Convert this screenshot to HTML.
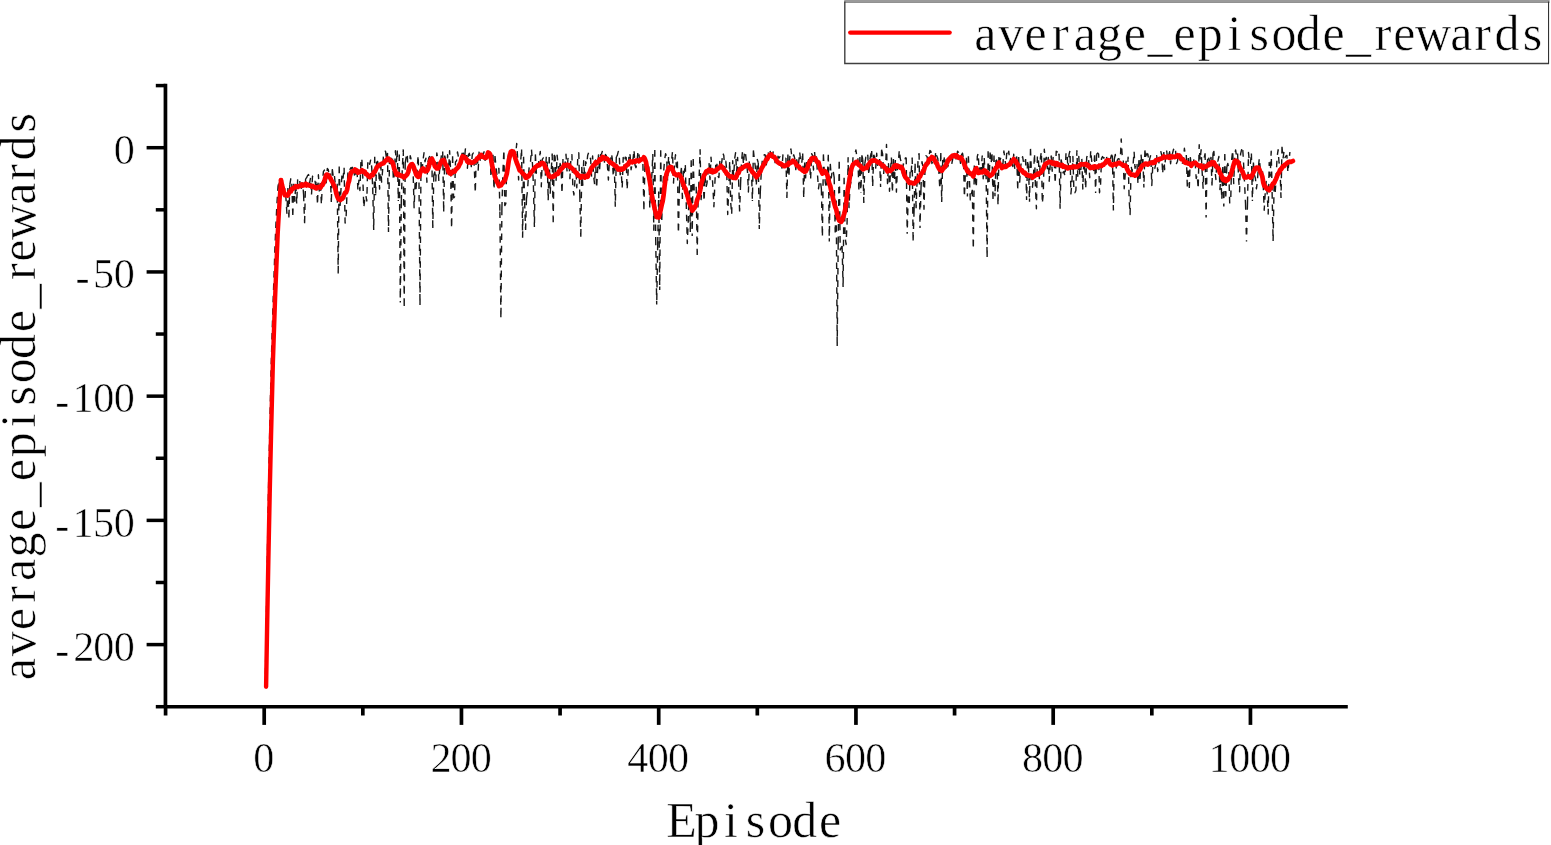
<!DOCTYPE html>
<html lang="en"><head><meta charset="utf-8"><title>average_episode_rewards</title>
<style>
html,body{margin:0;padding:0;background:#fff;}
body{width:1551px;height:845px;overflow:hidden;font-family:"Liberation Serif","Noto Serif CJK SC",serif;}
svg text{font-family:"Liberation Serif","Noto Serif CJK SC",serif;}
</style></head><body>
<svg width="1551" height="845" viewBox="0 0 1551 845" style="display:block" font-family="'Liberation Serif','Noto Serif CJK SC',serif" fill="#000">
<rect width="1551" height="845" fill="#fff"/>
<path d="M265.2,686.7 L266.2,625.7 L267.2,565.7 L268.1,510.0 L269.1,459.2 L270.1,412.7 L271.1,368.4 L272.1,334.0 L273.1,301.5 L274.1,273.4 L275.0,245.9 L276.0,222.6 L277.0,202.6 L278.0,186.5 L279.0,180.6 L280.0,203.3 L281.0,183.9 L282.0,181.9 L282.9,178.9 L283.9,195.2 L284.9,188.7 L285.9,197.4 L286.9,213.3 L287.9,187.9 M287.9,187.9 L288.9,217.4 M289.8,184.9 L288.9,217.4 M289.8,184.9 L290.8,178.6 L291.8,183.7 M291.8,183.7 L292.8,215.5 M293.8,183.7 L292.8,215.5 M293.8,183.7 L294.8,201.3 L295.8,183.1 L296.7,203.8 L297.7,178.6 L298.7,181.0 L299.7,180.0 L300.7,191.0 L301.7,187.0 L302.7,183.0 L303.6,194.7 M303.6,194.7 L304.6,223.2 M305.6,178.7 L304.6,223.2 M305.6,178.7 L306.6,177.8 L307.6,175.5 L308.6,174.6 L309.6,183.1 L310.6,177.5 L311.5,194.9 L312.5,176.3 L313.5,175.7 L314.5,177.5 L315.5,184.4 L316.5,179.7 L317.5,205.0 L318.4,174.7 L319.4,193.4 L320.4,180.7 L321.4,204.8 L322.4,182.6 L323.4,171.7 L324.4,170.1 L325.3,186.1 L326.3,182.1 L327.3,168.5 L328.3,169.7 L329.3,177.1 L330.3,173.5 M330.3,173.5 L331.3,201.9 M332.3,169.2 L331.3,201.9 M332.3,169.2 L333.2,176.2 L334.2,173.5 L335.2,183.2 L336.2,181.7 L337.2,183.7 M337.2,183.7 L338.2,273.5 M339.2,166.6 L338.2,273.5 M339.2,166.6 L340.1,205.4 L341.1,187.3 L342.1,173.3 L343.1,178.0 L344.1,167.4 L345.1,223.0 L346.1,217.8 L347.0,192.9 L348.0,171.2 L349.0,172.5 L350.0,169.4 L351.0,167.7 L352.0,169.1 L353.0,165.1 L353.9,171.5 L354.9,178.0 L355.9,172.3 L356.9,166.4 L357.9,190.2 L358.9,180.2 L359.9,190.5 L360.9,162.1 L361.8,158.0 L362.8,177.6 L363.8,207.7 L364.8,198.6 L365.8,195.0 L366.8,201.0 L367.8,162.2 L368.7,159.7 L369.7,164.4 L370.7,159.6 L371.7,167.2 L372.7,187.6 M372.7,187.6 L373.7,230.0 M374.7,156.7 L373.7,230.0 M374.7,156.7 L375.6,195.3 M376.6,162.0 L375.6,195.3 M376.6,162.0 L377.6,161.4 L378.6,166.4 L379.6,189.1 L380.6,160.0 L381.6,182.1 L382.5,171.8 L383.5,154.6 L384.5,151.1 L385.5,151.2 L386.5,158.6 L387.5,152.9 M387.5,152.9 L388.5,232.0 M389.5,157.5 L388.5,232.0 M389.5,157.5 L390.4,167.1 L391.4,155.6 L392.4,156.2 L393.4,180.4 L394.4,174.4 L395.4,150.8 L396.4,161.8 L397.3,150.5 M397.3,150.5 L398.3,200.9 M399.3,154.5 L398.3,200.9 M399.3,154.5 L400.3,302.5 M401.3,201.7 L400.3,302.5 M401.3,201.7 L402.3,167.9 L403.3,149.4 M403.3,149.4 L404.2,307.4 M405.2,163.1 L404.2,307.4 M405.2,163.1 L406.2,156.7 L407.2,153.4 L408.2,175.5 L409.2,175.4 L410.2,155.8 L411.1,159.0 L412.1,159.0 L413.1,172.0 L414.1,207.7 L415.1,182.8 L416.1,188.5 L417.1,171.3 L418.1,155.1 L419.0,182.5 M419.0,182.5 L420.0,305.4 M421.0,162.0 L420.0,305.4 M421.0,162.0 L422.0,172.5 L423.0,160.4 L424.0,152.8 L425.0,161.7 L425.9,158.3 L426.9,182.2 L427.9,162.2 L428.9,157.6 L429.9,156.1 L430.9,153.4 L431.9,158.2 M431.9,158.2 L432.8,228.0 M433.8,175.1 L432.8,228.0 M433.8,175.1 L434.8,172.0 L435.8,181.1 L436.8,152.9 L437.8,159.3 L438.8,180.4 L439.8,167.7 L440.7,161.0 L441.7,153.0 L442.7,151.6 M442.7,151.6 L443.7,211.6 M444.7,155.6 L443.7,211.6 M444.7,155.6 L445.7,159.8 L446.7,175.5 L447.6,154.7 L448.6,170.8 L449.6,150.8 L450.6,170.0 M450.6,170.0 L451.6,230.0 M452.6,156.3 L451.6,230.0 M452.6,156.3 L453.6,197.9 L454.5,197.1 L455.5,161.7 L456.5,161.0 L457.5,151.9 L458.5,157.6 L459.5,157.5 L460.5,157.5 L461.4,159.7 L462.4,149.8 L463.4,153.4 L464.4,159.9 L465.4,148.9 L466.4,151.1 L467.4,168.3 L468.4,154.8 L469.3,153.3 L470.3,157.5 L471.3,166.6 L472.3,154.5 L473.3,153.1 L474.3,167.8 L475.3,193.0 L476.2,156.0 L477.2,155.1 L478.2,170.1 L479.2,149.9 L480.2,160.2 L481.2,157.8 L482.2,153.4 L483.1,154.8 L484.1,151.8 L485.1,160.3 L486.1,151.4 L487.1,151.7 L488.1,151.6 L489.1,156.8 L490.0,153.2 L491.0,177.4 L492.0,154.8 L493.0,154.7 M493.0,154.7 L494.0,190.9 M495.0,156.0 L494.0,190.9 M495.0,156.0 L496.0,167.0 L497.0,175.0 L497.9,171.0 L498.9,168.3 L499.9,211.4 M499.9,211.4 L500.9,320.0 M501.9,208.6 L500.9,320.0 M501.9,208.6 L502.9,172.4 L503.9,149.7 L504.8,205.6 L505.8,203.6 L506.8,165.2 L507.8,158.8 L508.8,152.2 L509.8,149.9 L510.8,155.1 L511.7,153.9 L512.7,155.1 L513.7,149.2 L514.7,153.9 L515.7,154.9 L516.7,143.5 L517.7,158.9 L518.6,179.9 L519.6,163.1 L520.6,161.5 L521.6,149.5 M521.6,149.5 L522.6,237.7 M523.6,156.8 L522.6,237.7 M523.6,156.8 L524.6,202.0 M524.6,202.0 L525.6,230.0 M526.5,198.6 L525.6,230.0 M526.5,198.6 L527.5,191.1 L528.5,174.6 L529.5,163.6 L530.5,161.6 L531.5,149.5 L532.5,164.5 L533.4,185.3 M533.4,185.3 L534.4,227.0 M535.4,154.4 L534.4,227.0 M535.4,154.4 L536.4,173.3 L537.4,171.3 L538.4,163.4 L539.4,158.1 L540.3,151.4 L541.3,186.7 L542.3,159.3 L543.3,157.9 L544.3,173.1 L545.3,175.8 L546.3,156.3 L547.3,164.2 M547.3,164.2 L548.2,200.3 M549.2,157.0 L548.2,200.3 M549.2,157.0 L550.2,194.0 L551.2,171.4 L552.2,153.6 M552.2,153.6 L553.2,222.2 M554.2,154.9 L553.2,222.2 M554.2,154.9 L555.1,156.8 L556.1,180.3 L557.1,155.1 L558.1,164.7 L559.1,172.9 L560.1,163.5 L561.1,168.4 L562.0,193.6 L563.0,158.1 L564.0,159.2 L565.0,165.2 L566.0,154.2 L567.0,170.9 L568.0,158.4 L568.9,160.9 L569.9,178.6 L570.9,158.8 L571.9,154.6 L572.9,188.7 L573.9,195.0 L574.9,181.4 L575.9,167.4 L576.8,187.8 L577.8,156.1 L578.8,152.8 L579.8,195.5 M579.8,195.5 L580.8,236.7 M581.8,166.9 L580.8,236.7 M581.8,166.9 L582.8,185.2 L583.7,160.6 L584.7,179.0 L585.7,161.7 L586.7,164.4 L587.7,155.2 L588.7,152.5 L589.7,156.9 L590.6,158.9 L591.6,176.9 L592.6,155.9 L593.6,175.9 L594.6,184.2 L595.6,160.0 L596.6,188.3 L597.5,171.7 L598.5,154.9 L599.5,171.5 L600.5,154.8 L601.5,154.0 L602.5,150.7 L603.5,154.6 L604.5,162.8 L605.4,154.5 L606.4,155.9 L607.4,165.4 L608.4,180.0 L609.4,159.6 L610.4,162.0 L611.4,153.5 L612.3,158.8 L613.3,176.7 L614.3,164.1 M614.3,164.1 L615.3,206.8 M616.3,156.9 L615.3,206.8 M616.3,156.9 L617.3,155.3 L618.3,151.4 L619.2,154.5 L620.2,174.8 L621.2,171.8 L622.2,188.1 L623.2,157.4 L624.2,168.1 L625.2,157.1 L626.2,157.6 L627.1,189.8 L628.1,172.0 L629.1,152.7 L630.1,155.2 L631.1,169.7 L632.1,163.5 L633.1,158.7 L634.0,149.8 L635.0,165.0 L636.0,167.7 L637.0,162.2 L638.0,150.9 L639.0,154.7 L640.0,164.4 L640.9,160.6 L641.9,157.9 L642.9,164.1 M642.9,164.1 L643.9,209.7 M644.9,165.4 L643.9,209.7 M644.9,165.4 L645.9,158.0 L646.9,160.2 L647.8,178.8 L648.8,166.9 L649.8,208.3 L650.8,185.0 L651.8,176.5 L652.8,153.9 M652.8,153.9 L653.8,230.8 M654.8,150.1 L653.8,230.8 M654.8,150.1 L655.7,238.7 M655.7,238.7 L656.7,304.4 M657.7,243.7 L656.7,304.4 M657.7,243.7 L658.7,191.6 M658.7,191.6 L659.7,290.0 M660.7,150.2 L659.7,290.0 M660.7,150.2 L661.7,222.3 L662.6,194.5 L663.6,172.4 L664.6,159.8 L665.6,153.7 L666.6,156.6 L667.6,181.1 L668.6,156.2 L669.5,165.9 L670.5,163.0 L671.5,161.1 L672.5,151.6 L673.5,183.1 L674.5,163.3 L675.5,154.8 L676.4,166.9 L677.4,161.6 M677.4,161.6 L678.4,235.8 M679.4,186.7 L678.4,235.8 M679.4,186.7 L680.4,175.9 L681.4,167.9 M681.4,167.9 L682.4,199.0 M683.4,170.8 L682.4,199.0 M683.4,170.8 L684.3,172.7 L685.3,163.8 L686.3,205.2 L687.3,243.5 L688.3,220.5 L689.3,177.9 M689.3,177.9 L690.3,232.0 M691.2,160.3 L690.3,232.0 M691.2,160.3 L692.2,235.9 M693.2,159.1 L692.2,235.9 M693.2,159.1 L694.2,191.3 L695.2,188.4 L696.2,186.8 M696.2,186.8 L697.2,255.1 M698.1,200.8 L697.2,255.1 M698.1,200.8 L699.1,178.0 L700.1,149.7 L701.1,199.6 L702.1,183.9 L703.1,178.2 L704.1,201.5 L705.0,175.0 L706.0,187.7 L707.0,183.1 L708.0,172.5 L709.0,162.7 L710.0,179.5 L711.0,157.1 L712.0,171.7 L712.9,187.2 L713.9,206.8 L714.9,182.7 L715.9,161.5 L716.9,163.5 L717.9,176.2 L718.9,177.5 L719.8,161.4 L720.8,166.4 L721.8,161.8 L722.8,153.0 L723.8,155.4 L724.8,169.8 L725.8,161.3 L726.7,169.4 L727.7,214.5 L728.7,190.3 L729.7,161.0 L730.7,202.6 L731.7,214.5 L732.7,160.7 L733.7,176.5 L734.6,159.2 L735.6,152.7 L736.6,172.0 L737.6,157.4 L738.6,180.1 M738.6,180.1 L739.6,211.6 M740.6,183.5 L739.6,211.6 M740.6,183.5 L741.5,161.6 L742.5,151.4 L743.5,164.5 L744.5,151.1 L745.5,153.6 L746.5,162.0 L747.5,172.0 L748.4,192.0 L749.4,159.7 L750.4,170.0 L751.4,167.4 M751.4,167.4 L752.4,201.0 M753.4,150.4 L752.4,201.0 M753.4,150.4 L754.4,159.6 L755.3,166.4 L756.3,186.0 L757.3,159.5 L758.3,162.9 M758.3,162.9 L759.3,229.0 M760.3,192.1 L759.3,229.0 M760.3,192.1 L761.3,171.4 L762.3,160.2 L763.2,159.9 L764.2,154.8 L765.2,155.0 L766.2,165.4 L767.2,158.8 L768.2,153.0 L769.2,157.9 L770.1,150.8 L771.1,157.4 L772.1,160.4 L773.1,151.9 L774.1,153.9 L775.1,162.6 L776.1,162.0 L777.0,163.6 L778.0,156.3 L779.0,158.1 L780.0,156.7 L781.0,164.1 L782.0,168.0 L783.0,153.9 L783.9,156.9 L784.9,158.3 L785.9,158.0 M785.9,158.0 L786.9,198.0 M787.9,154.6 L786.9,198.0 M787.9,154.6 L788.9,177.1 L789.9,155.7 L790.9,148.9 L791.8,156.6 L792.8,158.0 L793.8,154.8 L794.8,158.7 L795.8,169.6 L796.8,159.8 L797.8,167.1 L798.7,162.3 L799.7,152.0 L800.7,161.7 L801.7,163.7 L802.7,153.4 M802.7,153.4 L803.7,197.0 M804.7,162.5 L803.7,197.0 M804.7,162.5 L805.6,177.9 L806.6,160.8 L807.6,170.5 L808.6,159.7 L809.6,161.7 L810.6,179.6 L811.6,153.6 L812.5,155.4 L813.5,170.0 L814.5,150.8 L815.5,163.8 L816.5,157.0 L817.5,174.7 L818.5,188.8 L819.5,181.2 L820.4,180.6 L821.4,189.0 M821.4,189.0 L822.4,237.7 M823.4,154.4 L822.4,237.7 M823.4,154.4 L824.4,173.9 L825.4,183.1 L826.4,188.4 L827.3,178.1 L828.3,154.8 M828.3,154.8 L829.3,241.6 M830.3,163.9 L829.3,241.6 M830.3,163.9 L831.3,177.8 L832.3,169.6 L833.3,171.7 L834.2,177.6 M834.2,177.6 L835.2,232.5 M836.2,200.4 L835.2,232.5 M836.2,200.4 L837.2,346.0 M838.2,243.1 L837.2,346.0 M838.2,243.1 L839.2,159.0 L840.2,250.0 L841.2,247.4 L842.1,246.1 M842.1,246.1 L843.1,287.0 M844.1,177.7 L843.1,287.0 M844.1,177.7 L845.1,237.2 L846.1,244.5 L847.1,221.7 L848.1,157.6 L849.0,207.6 L850.0,187.3 L851.0,181.6 L852.0,180.0 L853.0,157.1 L854.0,154.7 L855.0,153.7 L855.9,149.9 L856.9,157.1 L857.9,158.2 M857.9,158.2 L858.9,190.4 M859.9,156.9 L858.9,190.4 M859.9,156.9 L860.9,193.0 M861.9,155.3 L860.9,193.0 M861.9,155.3 L862.8,159.7 M862.8,159.7 L863.8,203.0 M864.8,163.7 L863.8,203.0 M864.8,163.7 L865.8,157.3 L866.8,159.6 L867.8,155.2 L868.8,175.3 L869.8,159.6 L870.7,155.1 L871.7,150.9 M871.7,150.9 L872.7,185.9 M873.7,154.7 L872.7,185.9 M873.7,154.7 L874.7,157.1 L875.7,168.1 L876.7,153.3 L877.6,165.3 L878.6,157.9 L879.6,158.9 M879.6,158.9 L880.6,187.0 M881.6,149.7 L880.6,187.0 M881.6,149.7 L882.6,153.9 L883.6,174.2 L884.5,164.1 L885.5,169.4 L886.5,144.5 L887.5,183.6 L888.5,163.6 L889.5,191.2 L890.5,170.5 L891.4,157.5 M891.4,157.5 L892.4,193.0 M893.4,159.1 L892.4,193.0 M893.4,159.1 L894.4,181.4 L895.4,159.3 L896.4,192.1 L897.4,169.2 L898.4,161.3 L899.3,150.1 L900.3,158.6 L901.3,162.6 L902.3,174.4 L903.3,163.9 L904.3,164.8 L905.3,158.2 L906.2,157.6 M906.2,157.6 L907.2,233.8 M908.2,196.2 L907.2,233.8 M908.2,196.2 L909.2,205.8 L910.2,169.2 L911.2,172.3 L912.2,157.5 M912.2,157.5 L913.1,240.6 M914.1,210.1 L913.1,240.6 M914.1,210.1 L915.1,163.8 M915.1,163.8 L916.1,208.3 M917.1,180.1 L916.1,208.3 M917.1,180.1 L918.1,159.3 L919.1,153.2 M919.1,153.2 L920.0,228.0 M921.0,188.6 L920.0,228.0 M921.0,188.6 L922.0,161.6 L923.0,167.7 M923.0,167.7 L924.0,209.7 M925.0,168.5 L924.0,209.7 M925.0,168.5 L926.0,155.8 L927.0,156.5 L927.9,160.6 L928.9,157.3 L929.9,150.5 L930.9,151.3 L931.9,163.5 L932.9,160.2 L933.9,159.7 L934.8,161.1 L935.8,151.3 L936.8,156.0 L937.8,158.6 L938.8,170.3 L939.8,189.0 L940.8,153.0 M940.8,153.0 L941.7,202.0 M942.7,159.9 L941.7,202.0 M942.7,159.9 L943.7,161.8 L944.7,155.5 L945.7,170.2 L946.7,165.6 L947.7,166.7 L948.7,164.2 L949.6,156.4 L950.6,159.8 L951.6,164.8 L952.6,159.5 L953.6,152.6 L954.6,155.2 L955.6,156.1 L956.5,160.6 L957.5,151.3 L958.5,152.5 L959.5,155.2 L960.5,163.3 L961.5,154.9 L962.5,153.2 L963.4,157.7 L964.4,197.0 L965.4,172.8 L966.4,157.7 M966.4,157.7 L967.4,196.4 M968.4,156.2 L967.4,196.4 M968.4,156.2 L969.4,178.5 L970.3,199.9 L971.3,194.4 L972.3,189.8 M972.3,189.8 L973.3,250.3 M974.3,165.6 L973.3,250.3 M974.3,165.6 L975.3,178.8 L976.3,187.8 L977.3,156.4 L978.2,153.3 L979.2,172.3 L980.2,164.3 L981.2,170.3 L982.2,156.0 L983.2,178.7 L984.2,157.5 L985.1,175.6 L986.1,172.6 M986.1,172.6 L987.1,259.0 M988.1,151.2 L987.1,259.0 M988.1,151.2 L989.1,182.1 M990.1,152.5 L989.1,182.1 M990.1,152.5 L991.1,163.5 L992.0,154.2 M992.0,154.2 L993.0,198.9 M994.0,155.5 L993.0,198.9 M994.0,155.5 L995.0,196.3 M996.0,159.9 L995.0,196.3 M996.0,159.9 L997.0,160.4 M997.0,160.4 L998.0,204.8 M998.9,157.1 L998.0,204.8 M998.9,157.1 L999.9,160.6 L1000.9,157.5 L1001.9,160.1 L1002.9,164.2 L1003.9,151.0 L1004.9,158.6 L1005.9,166.3 L1006.8,151.3 L1007.8,154.6 L1008.8,151.2 L1009.8,162.7 L1010.8,157.4 L1011.8,157.6 L1012.8,166.5 L1013.7,154.3 L1014.7,168.3 L1015.7,159.2 L1016.7,156.4 M1016.7,156.4 L1017.7,188.7 M1018.7,157.0 L1017.7,188.7 M1018.7,157.0 L1019.7,182.1 L1020.6,166.8 L1021.6,160.7 L1022.6,156.6 L1023.6,162.8 L1024.6,164.8 L1025.6,159.0 M1025.6,159.0 L1026.6,200.0 M1027.5,162.0 L1026.6,200.0 M1027.5,162.0 L1028.5,165.9 M1028.5,165.9 L1029.5,201.8 M1030.5,148.9 L1029.5,201.8 M1030.5,148.9 L1031.5,175.3 L1032.5,187.3 L1033.5,175.3 L1034.5,153.3 L1035.4,185.6 L1036.4,208.7 L1037.4,155.6 L1038.4,159.3 L1039.4,178.6 L1040.4,157.9 L1041.4,151.6 L1042.3,203.5 L1043.3,193.9 L1044.3,149.2 L1045.3,160.0 L1046.3,157.3 L1047.3,168.8 L1048.3,157.4 L1049.2,181.2 L1050.2,165.0 L1051.2,156.0 L1052.2,171.2 L1053.2,156.4 L1054.2,161.3 L1055.2,183.6 L1056.2,151.3 L1057.1,151.7 L1058.1,156.8 L1059.1,153.8 M1059.1,153.8 L1060.1,208.7 M1061.1,159.4 L1060.1,208.7 M1061.1,159.4 L1062.1,164.7 L1063.1,172.9 L1064.0,171.5 L1065.0,176.6 L1066.0,153.0 L1067.0,152.5 L1068.0,169.5 L1069.0,154.7 L1070.0,150.6 L1070.9,193.9 L1071.9,183.0 L1072.9,156.5 L1073.9,190.6 L1074.9,192.7 L1075.9,190.5 L1076.9,150.7 L1077.8,176.3 L1078.8,156.5 L1079.8,175.1 L1080.8,170.8 L1081.8,158.3 L1082.8,189.0 L1083.8,161.6 L1084.8,169.4 L1085.7,189.0 L1086.7,157.2 L1087.7,155.3 L1088.7,160.9 L1089.7,177.6 L1090.7,150.4 L1091.7,161.0 L1092.6,168.2 L1093.6,170.4 L1094.6,155.3 M1094.6,155.3 L1095.6,193.0 M1096.6,154.3 L1095.6,193.0 M1096.6,154.3 L1097.6,153.1 L1098.6,154.1 L1099.5,192.7 L1100.5,186.2 L1101.5,158.6 L1102.5,156.6 L1103.5,158.0 L1104.5,157.7 L1105.5,154.5 L1106.4,155.4 L1107.4,161.6 L1108.4,161.3 L1109.4,157.2 L1110.4,159.1 L1111.4,155.1 L1112.4,155.4 M1112.4,155.4 L1113.4,210.6 M1114.3,159.1 L1113.4,210.6 M1114.3,159.1 L1115.3,154.4 L1116.3,168.7 L1117.3,160.1 L1118.3,158.6 L1119.3,159.1 L1120.3,159.6 L1121.2,139.0 L1122.2,155.8 L1123.2,156.7 L1124.2,188.7 L1125.2,174.8 L1126.2,160.2 L1127.2,176.0 L1128.1,157.2 L1129.1,198.1 L1130.1,214.5 L1131.1,165.9 L1132.1,171.3 L1133.1,164.5 L1134.1,151.4 L1135.0,168.3 L1136.0,162.2 L1137.0,164.2 L1138.0,184.1 L1139.0,157.4 L1140.0,181.7 L1141.0,154.2 L1142.0,165.9 L1142.9,159.1 M1142.9,159.1 L1143.9,187.6 M1144.9,150.4 L1143.9,187.6 M1144.9,150.4 L1145.9,159.1 L1146.9,153.5 L1147.9,154.1 L1148.9,162.4 L1149.8,158.4 L1150.8,154.9 L1151.8,185.5 L1152.8,164.9 L1153.8,167.0 L1154.8,168.4 L1155.8,163.9 L1156.7,155.7 L1157.7,171.5 L1158.7,163.7 L1159.7,158.2 L1160.7,151.1 L1161.7,155.2 L1162.7,174.0 L1163.7,149.7 L1164.6,169.6 L1165.6,156.5 L1166.6,150.3 L1167.6,158.9 L1168.6,155.7 L1169.6,151.8 L1170.6,163.8 L1171.5,155.1 L1172.5,153.5 L1173.5,149.3 L1174.5,152.3 L1175.5,149.8 L1176.5,163.6 L1177.5,161.2 L1178.4,153.8 L1179.4,153.1 L1180.4,162.9 L1181.4,164.6 L1182.4,163.1 L1183.4,159.8 L1184.4,148.3 L1185.3,155.0 L1186.3,154.9 M1186.3,154.9 L1187.3,186.5 M1188.3,158.0 L1187.3,186.5 M1188.3,158.0 L1189.3,188.0 M1190.3,157.2 L1189.3,188.0 M1190.3,157.2 L1191.3,165.6 L1192.3,167.5 L1193.2,163.1 L1194.2,157.7 L1195.2,162.4 L1196.2,178.5 L1197.2,175.0 L1198.2,189.0 L1199.2,144.8 L1200.1,160.1 L1201.1,149.8 L1202.1,171.3 L1203.1,188.3 L1204.1,158.2 L1205.1,153.3 M1205.1,153.3 L1206.1,217.5 M1207.0,165.3 L1206.1,217.5 M1207.0,165.3 L1208.0,155.3 L1209.0,159.0 L1210.0,164.4 L1211.0,156.9 M1211.0,156.9 L1212.0,185.5 M1213.0,153.3 L1212.0,185.5 M1213.0,153.3 L1213.9,151.4 L1214.9,169.4 L1215.9,179.5 L1216.9,160.6 L1217.9,161.0 L1218.9,156.5 L1219.9,189.5 L1220.9,177.0 L1221.8,199.6 L1222.8,166.9 M1222.8,166.9 L1223.8,206.5 M1224.8,153.9 L1223.8,206.5 M1224.8,153.9 L1225.8,196.6 M1226.8,167.0 L1225.8,196.6 M1226.8,167.0 L1227.8,163.4 L1228.7,167.8 L1229.7,202.9 L1230.7,202.0 L1231.7,159.0 L1232.7,150.4 L1233.7,183.6 L1234.7,155.9 L1235.6,149.9 L1236.6,156.7 L1237.6,153.5 L1238.6,178.9 L1239.6,191.7 L1240.6,153.8 L1241.6,149.7 L1242.6,146.8 L1243.5,161.8 L1244.5,182.1 L1245.5,203.1 M1245.5,203.1 L1246.5,241.6 M1247.5,203.1 L1246.5,241.6 M1247.5,203.1 L1248.5,152.5 L1249.5,163.5 L1250.4,163.3 L1251.4,153.5 M1251.4,153.5 L1252.4,201.0 M1253.4,162.5 L1252.4,201.0 M1253.4,162.5 L1254.4,174.9 L1255.4,178.2 L1256.4,188.8 L1257.3,182.3 L1258.3,168.1 L1259.3,158.3 L1260.3,169.2 L1261.3,168.5 L1262.3,167.6 L1263.3,186.9 L1264.2,210.3 L1265.2,193.1 L1266.2,181.5 L1267.2,193.9 L1268.2,214.0 L1269.2,162.5 L1270.2,176.1 L1271.2,151.2 L1272.1,192.1 M1272.1,192.1 L1273.1,241.6 M1274.1,184.8 L1273.1,241.6 M1274.1,184.8 L1275.1,194.6 L1276.1,177.2 L1277.1,157.1 L1278.1,149.8 L1279.0,162.2 L1280.0,167.5 M1280.0,167.5 L1281.0,198.0 M1282.0,146.8 L1281.0,198.0 M1282.0,146.8 L1283.0,158.8 L1284.0,151.7 L1285.0,157.6 L1285.9,156.1 L1286.9,155.4 L1287.9,172.5 L1288.9,162.0 L1289.9,152.0" fill="none" stroke="#181818" stroke-width="1.4" stroke-dasharray="6.6 5.8" stroke-linejoin="round"/>
<path d="M281.0,180.1 L282.0,185.2 L283.0,189.0 L284.0,192.8 L284.9,195.2 L285.9,195.1 L286.9,194.8 L287.9,195.5 L288.9,193.0 L289.9,191.4 L290.9,191.4 L291.8,189.0 L292.8,188.7 L293.8,187.6 L294.8,187.5 L295.8,186.2 L296.8,186.8 L297.8,187.0 L298.8,186.0 L299.7,186.2 L300.7,185.8 L301.7,184.4 L302.7,185.6 L303.7,185.2 L304.7,184.5 L305.7,183.8 L306.6,185.5 L307.6,184.6 L308.6,185.2 L309.6,185.7 L310.6,185.7 L311.6,186.5 L312.6,185.9 L313.5,187.1 L314.5,186.8 L315.5,188.2 L316.5,188.4 L317.5,187.0 L318.5,187.0 L319.5,186.9 L320.4,187.7 L321.4,185.7 L322.4,185.0 L323.4,183.2 L324.4,181.0 L325.4,177.3 L326.4,174.6 L327.4,174.6 L328.3,175.3 L329.3,177.0 L330.3,178.1 L331.3,180.2 L332.3,181.8 L333.3,183.9 L334.3,186.0 L335.2,188.2 L336.2,193.0 L337.2,196.3 L338.2,198.7 L339.2,199.5 L340.2,200.1 L341.2,198.6 L342.1,198.9 L343.1,197.1 L344.1,194.9 L345.1,192.7 L346.1,192.4 L347.1,189.7 L348.1,183.8 L349.1,180.7 L350.0,175.9 L351.0,172.7 L352.0,171.6 L353.0,171.3 L354.0,171.0 L355.0,169.5 L356.0,171.2 L356.9,170.8 L357.9,172.7 L358.9,171.8 L359.9,172.1 L360.9,171.4 L361.9,170.3 L362.9,171.7 L363.8,171.2 L364.8,171.8 L365.8,174.1 L366.8,174.1 L367.8,175.5 L368.8,176.6 L369.8,177.2 L370.7,175.9 L371.7,174.8 L372.7,175.1 L373.7,172.3 L374.7,171.9 L375.7,170.0 L376.7,167.4 L377.7,166.4 L378.6,165.6 L379.6,165.1 L380.6,164.4 L381.6,163.8 L382.6,163.3 L383.6,163.3 L384.6,161.7 L385.5,160.7 L386.5,160.3 L387.5,158.6 L388.5,158.5 L389.5,160.3 L390.5,160.4 L391.5,161.7 L392.4,162.1 L393.4,165.4 L394.4,169.3 L395.4,171.5 L396.4,174.6 L397.4,174.9 L398.4,174.0 L399.3,175.3 L400.3,175.2 L401.3,176.1 L402.3,175.9 L403.3,177.1 L404.3,177.5 L405.3,176.1 L406.3,175.3 L407.2,174.4 L408.2,172.1 L409.2,167.8 L410.2,165.7 L411.2,164.5 L412.2,164.1 L413.2,165.8 L414.1,168.2 L415.1,171.2 L416.1,174.4 L417.1,175.9 L418.1,176.9 L419.1,176.6 L420.1,172.8 L421.0,171.2 L422.0,169.5 L423.0,168.4 L424.0,169.1 L425.0,171.4 L426.0,171.2 L427.0,171.0 L427.9,169.2 L428.9,166.3 L429.9,161.5 L430.9,159.3 L431.9,158.8 L432.9,161.1 L433.9,162.8 L434.9,166.4 L435.8,167.2 L436.8,168.4 L437.8,168.4 L438.8,167.5 L439.8,164.8 L440.8,162.5 L441.8,160.6 L442.7,160.5 L443.7,159.9 L444.7,162.4 L445.7,164.7 L446.7,165.9 L447.7,168.8 L448.7,172.1 L449.6,173.2 L450.6,173.8 L451.6,172.7 L452.6,171.8 L453.6,171.4 L454.6,171.6 L455.6,169.7 L456.6,168.8 L457.5,167.9 L458.5,166.7 L459.5,164.6 L460.5,163.0 L461.5,158.8 L462.5,156.3 L463.5,156.8 L464.4,156.8 L465.4,158.2 L466.4,158.9 L467.4,161.6 L468.4,162.5 L469.4,161.3 L470.4,162.5 L471.3,162.8 L472.3,162.6 L473.3,162.3 L474.3,161.7 L475.3,161.1 L476.3,159.9 L477.3,158.4 L478.2,158.2 L479.2,156.5 L480.2,156.8 L481.2,154.9 L482.2,156.7 L483.2,156.7 L484.2,157.6 L485.2,157.8 L486.1,157.8 L487.1,155.6 L488.1,152.5 L489.1,153.1 L490.1,154.3 L491.1,159.3 L492.1,165.4 L493.0,169.2 L494.0,172.4 L495.0,176.9 L496.0,179.5 L497.0,181.8 L498.0,183.7 L499.0,186.1 L499.9,185.4 L500.9,185.5 L501.9,183.8 L502.9,182.3 L503.9,181.4 L504.9,180.2 L505.9,176.9 L506.8,173.8 L507.8,167.3 L508.8,160.4 L509.8,156.1 L510.8,151.8 L511.8,151.2 L512.8,151.6 L513.8,152.2 L514.7,156.1 L515.7,159.5 L516.7,162.6 L517.7,165.0 L518.7,167.6 L519.7,170.4 L520.7,170.7 L521.6,172.1 L522.6,173.4 L523.6,174.4 L524.6,175.2 L525.6,177.6 L526.6,177.8 L527.6,176.2 L528.5,176.4 L529.5,174.9 L530.5,173.4 L531.5,171.9 L532.5,171.0 L533.5,169.6 L534.5,168.2 L535.4,167.1 L536.4,166.6 L537.4,165.4 L538.4,165.5 L539.4,165.2 L540.4,164.0 L541.4,163.0 L542.4,162.9 L543.3,163.3 L544.3,164.6 L545.3,167.0 L546.3,168.8 L547.3,172.4 L548.3,174.6 L549.3,176.2 L550.2,176.8 L551.2,177.0 L552.2,177.2 L553.2,176.2 L554.2,176.3 L555.2,175.2 L556.2,174.2 L557.1,174.1 L558.1,173.7 L559.1,171.2 L560.1,170.5 L561.1,168.9 L562.1,168.3 L563.1,167.1 L564.1,165.0 L565.0,165.6 L566.0,165.4 L567.0,164.6 L568.0,165.4 L569.0,165.2 L570.0,167.1 L571.0,167.4 L571.9,168.4 L572.9,169.1 L573.9,170.1 L574.9,171.6 L575.9,172.7 L576.9,173.2 L577.9,175.5 L578.8,175.3 L579.8,176.2 L580.8,177.6 L581.8,176.2 L582.8,176.2 L583.8,176.2 L584.8,177.6 L585.7,176.1 L586.7,175.6 L587.7,176.8 L588.7,173.6 L589.7,172.6 L590.7,169.6 L591.7,167.7 L592.7,166.6 L593.6,165.0 L594.6,164.7 L595.6,162.5 L596.6,163.3 L597.6,162.1 L598.6,161.5 L599.6,159.4 L600.5,159.7 L601.5,159.3 L602.5,157.0 L603.5,157.3 L604.5,158.0 L605.5,158.9 L606.5,158.4 L607.4,159.0 L608.4,160.1 L609.4,161.7 L610.4,162.8 L611.4,162.9 L612.4,163.6 L613.4,164.4 L614.3,165.1 L615.3,166.1 L616.3,166.3 L617.3,167.9 L618.3,169.5 L619.3,168.8 L620.3,169.8 L621.3,168.7 L622.2,169.5 L623.2,169.0 L624.2,168.0 L625.2,166.7 L626.2,165.6 L627.2,164.8 L628.2,164.3 L629.1,162.0 L630.1,161.2 L631.1,162.1 L632.1,162.3 L633.1,161.5 L634.1,161.2 L635.1,161.8 L636.0,160.6 L637.0,160.7 L638.0,160.5 L639.0,161.2 L640.0,160.2 L641.0,159.3 L642.0,159.3 L643.0,159.1 L643.9,157.3 L644.9,159.0 L645.9,161.7 L646.9,167.3 L647.9,171.7 L648.9,176.1 L649.9,181.9 L650.8,187.9 L651.8,195.0 L652.8,200.3 L653.8,204.3 L654.8,209.3 L655.8,213.3 L656.8,217.2 L657.7,217.0 L658.7,217.5 L659.7,213.6 L660.7,209.8 L661.7,205.0 L662.7,201.1 L663.7,194.3 L664.6,185.8 L665.6,178.2 L666.6,173.6 L667.6,171.2 L668.6,168.1 L669.6,167.2 L670.6,167.0 L671.6,167.3 L672.5,169.7 L673.5,172.2 L674.5,174.0 L675.5,174.3 L676.5,175.2 L677.5,175.2 L678.5,174.4 L679.4,174.9 L680.4,176.4 L681.4,178.2 L682.4,181.6 L683.4,184.5 L684.4,187.3 L685.4,188.6 L686.3,192.6 L687.3,194.9 L688.3,199.0 L689.3,203.3 L690.3,205.3 L691.3,207.8 L692.3,210.6 L693.2,209.3 L694.2,208.2 L695.2,206.5 L696.2,204.0 L697.2,199.7 L698.2,197.4 L699.2,194.3 L700.2,190.0 L701.1,184.6 L702.1,180.9 L703.1,178.3 L704.1,175.2 L705.1,173.9 L706.1,171.7 L707.1,170.9 L708.0,171.1 L709.0,169.8 L710.0,171.5 L711.0,171.7 L712.0,170.3 L713.0,172.1 L714.0,171.0 L714.9,171.6 L715.9,170.9 L716.9,169.1 L717.9,168.9 L718.9,167.9 L719.9,167.4 L720.9,165.8 L721.8,166.7 L722.8,168.0 L723.8,169.1 L724.8,170.8 L725.8,171.9 L726.8,173.9 L727.8,174.3 L728.8,175.8 L729.7,176.4 L730.7,176.7 L731.7,176.4 L732.7,177.7 L733.7,177.9 L734.7,177.0 L735.7,177.9 L736.6,176.1 L737.6,173.3 L738.6,173.0 L739.6,169.7 L740.6,168.7 L741.6,168.7 L742.6,167.8 L743.5,167.0 L744.5,166.6 L745.5,165.8 L746.5,165.2 L747.5,164.9 L748.5,165.2 L749.5,167.8 L750.5,169.3 L751.4,170.3 L752.4,172.1 L753.4,173.0 L754.4,174.3 L755.4,175.7 L756.4,177.2 L757.4,175.2 L758.3,174.9 L759.3,172.6 L760.3,171.7 L761.3,168.9 L762.3,167.1 L763.3,165.3 L764.3,163.5 L765.2,162.0 L766.2,159.5 L767.2,159.2 L768.2,156.6 L769.2,155.9 L770.2,154.7 L771.2,154.4 L772.1,156.0 L773.1,156.7 L774.1,156.8 L775.1,158.1 L776.1,159.8 L777.1,161.5 L778.1,162.4 L779.1,163.2 L780.0,163.7 L781.0,163.7 L782.0,164.9 L783.0,165.0 L784.0,166.1 L785.0,166.2 L786.0,165.2 L786.9,164.7 L787.9,165.0 L788.9,162.6 L789.9,163.2 L790.9,162.6 L791.9,162.1 L792.9,160.8 L793.8,161.4 L794.8,162.2 L795.8,163.4 L796.8,165.4 L797.8,166.1 L798.8,166.4 L799.8,168.4 L800.7,168.5 L801.7,169.7 L802.7,170.7 L803.7,169.9 L804.7,171.8 L805.7,171.4 L806.7,169.5 L807.7,167.2 L808.6,164.4 L809.6,161.8 L810.6,160.9 L811.6,158.4 L812.6,158.1 L813.6,158.0 L814.6,157.9 L815.5,159.0 L816.5,161.0 L817.5,162.2 L818.5,162.3 L819.5,166.5 L820.5,169.6 L821.5,171.5 L822.4,173.6 L823.4,172.7 L824.4,171.0 L825.4,171.4 L826.4,173.6 L827.4,175.2 L828.4,180.0 L829.3,183.6 L830.3,186.2 L831.3,191.3 L832.3,194.9 L833.3,199.7 L834.3,203.4 L835.3,207.1 L836.3,209.7 L837.2,214.3 L838.2,218.0 L839.2,220.6 L840.2,221.3 L841.2,221.9 L842.2,220.0 L843.2,217.0 L844.1,214.1 L845.1,210.2 L846.1,203.3 L847.1,194.7 L848.1,187.5 L849.1,181.8 L850.1,175.5 L851.0,170.0 L852.0,166.9 L853.0,164.6 L854.0,163.6 L855.0,163.2 L856.0,162.1 L857.0,161.9 L858.0,164.1 L858.9,164.9 L859.9,165.5 L860.9,166.8 L861.9,168.3 L862.9,169.3 L863.9,168.8 L864.9,168.1 L865.8,167.8 L866.8,167.9 L867.8,165.3 L868.8,164.6 L869.8,162.7 L870.8,161.6 L871.8,160.7 L872.7,160.8 L873.7,160.4 L874.7,160.3 L875.7,160.8 L876.7,161.4 L877.7,162.5 L878.7,162.2 L879.6,162.7 L880.6,164.1 L881.6,164.7 L882.6,166.1 L883.6,165.8 L884.6,167.6 L885.6,168.6 L886.6,168.8 L887.5,171.4 L888.5,170.5 L889.5,170.5 L890.5,171.0 L891.5,169.5 L892.5,169.1 L893.5,167.3 L894.4,165.8 L895.4,165.2 L896.4,166.6 L897.4,165.8 L898.4,166.9 L899.4,166.5 L900.4,167.6 L901.3,167.0 L902.3,168.7 L903.3,171.2 L904.3,175.0 L905.3,177.1 L906.3,178.4 L907.3,179.0 L908.2,181.3 L909.2,182.8 L910.2,182.9 L911.2,182.5 L912.2,183.0 L913.2,183.4 L914.2,183.4 L915.2,182.5 L916.1,181.4 L917.1,181.1 L918.1,180.0 L919.1,176.8 L920.1,176.5 L921.1,173.8 L922.1,173.0 L923.0,171.7 L924.0,170.0 L925.0,166.3 L926.0,165.0 L927.0,163.7 L928.0,162.7 L929.0,159.5 L929.9,158.7 L930.9,158.9 L931.9,157.0 L932.9,157.6 L933.9,158.4 L934.9,160.5 L935.9,162.8 L936.8,163.3 L937.8,166.4 L938.8,168.2 L939.8,169.8 L940.8,170.0 L941.8,170.8 L942.8,169.1 L943.8,168.2 L944.7,166.5 L945.7,165.9 L946.7,163.6 L947.7,161.3 L948.7,159.4 L949.7,158.9 L950.7,157.4 L951.6,156.7 L952.6,155.6 L953.6,155.8 L954.6,155.2 L955.6,156.5 L956.6,155.4 L957.6,156.7 L958.5,157.7 L959.5,158.0 L960.5,157.3 L961.5,158.2 L962.5,160.3 L963.5,161.8 L964.5,164.8 L965.5,167.4 L966.4,168.8 L967.4,171.2 L968.4,172.1 L969.4,172.6 L970.4,173.7 L971.4,173.9 L972.4,175.1 L973.3,176.4 L974.3,172.0 L975.3,169.5 L976.3,168.2 L977.3,169.9 L978.3,172.9 L979.3,172.7 L980.2,172.1 L981.2,171.9 L982.2,172.4 L983.2,171.8 L984.2,170.4 L985.2,170.8 L986.2,172.9 L987.1,172.4 L988.1,174.2 L989.1,174.7 L990.1,175.8 L991.1,175.0 L992.1,174.6 L993.1,172.9 L994.1,170.9 L995.0,169.6 L996.0,167.7 L997.0,167.0 L998.0,163.6 L999.0,162.5 L1000.0,165.2 L1001.0,165.4 L1001.9,168.1 L1002.9,166.5 L1003.9,167.1 L1004.9,166.2 L1005.9,166.9 L1006.9,165.9 L1007.9,165.2 L1008.8,164.8 L1009.8,164.4 L1010.8,162.5 L1011.8,161.9 L1012.8,160.6 L1013.8,159.1 L1014.8,160.4 L1015.7,161.0 L1016.7,163.4 L1017.7,164.4 L1018.7,167.0 L1019.7,168.3 L1020.7,170.1 L1021.7,170.0 L1022.7,171.7 L1023.6,172.8 L1024.6,172.6 L1025.6,174.1 L1026.6,175.0 L1027.6,174.9 L1028.6,175.7 L1029.6,176.0 L1030.5,175.6 L1031.5,176.0 L1032.5,177.5 L1033.5,176.2 L1034.5,176.1 L1035.5,175.0 L1036.5,174.7 L1037.4,173.8 L1038.4,174.5 L1039.4,173.2 L1040.4,172.6 L1041.4,171.9 L1042.4,169.8 L1043.4,168.7 L1044.3,166.1 L1045.3,164.1 L1046.3,163.7 L1047.3,162.7 L1048.3,162.5 L1049.3,161.7 L1050.3,162.4 L1051.3,162.0 L1052.2,163.5 L1053.2,163.7 L1054.2,162.8 L1055.2,164.4 L1056.2,163.2 L1057.2,163.3 L1058.2,164.9 L1059.1,164.4 L1060.1,165.2 L1061.1,165.8 L1062.1,164.9 L1063.1,166.7 L1064.1,166.1 L1065.1,166.8 L1066.0,167.0 L1067.0,168.2 L1068.0,168.4 L1069.0,167.7 L1070.0,167.3 L1071.0,167.5 L1072.0,167.5 L1073.0,166.5 L1073.9,166.3 L1074.9,167.2 L1075.9,166.7 L1076.9,166.9 L1077.9,166.6 L1078.9,166.1 L1079.9,164.9 L1080.8,164.2 L1081.8,164.3 L1082.8,164.4 L1083.8,164.4 L1084.8,164.3 L1085.8,163.9 L1086.8,165.3 L1087.7,164.8 L1088.7,166.0 L1089.7,167.6 L1090.7,167.9 L1091.7,167.0 L1092.7,166.9 L1093.7,167.9 L1094.6,166.3 L1095.6,166.5 L1096.6,167.2 L1097.6,167.1 L1098.6,166.2 L1099.6,165.8 L1100.6,165.6 L1101.6,166.0 L1102.5,164.6 L1103.5,164.7 L1104.5,163.4 L1105.5,163.0 L1106.5,160.5 L1107.5,160.4 L1108.5,160.2 L1109.4,162.6 L1110.4,164.4 L1111.4,164.6 L1112.4,165.5 L1113.4,164.3 L1114.4,164.3 L1115.4,163.8 L1116.3,164.5 L1117.3,163.5 L1118.3,163.0 L1119.3,162.6 L1120.3,163.6 L1121.3,164.2 L1122.3,164.7 L1123.2,165.6 L1124.2,165.8 L1125.2,165.3 L1126.2,166.3 L1127.2,169.2 L1128.2,171.1 L1129.2,172.2 L1130.2,174.0 L1131.1,174.4 L1132.1,174.6 L1133.1,175.0 L1134.1,174.8 L1135.1,175.6 L1136.1,175.2 L1137.1,174.1 L1138.0,172.1 L1139.0,170.9 L1140.0,169.6 L1141.0,167.6 L1142.0,165.9 L1143.0,165.0 L1144.0,164.8 L1144.9,163.7 L1145.9,163.5 L1146.9,164.2 L1147.9,164.6 L1148.9,163.5 L1149.9,163.0 L1150.9,162.7 L1151.8,162.6 L1152.8,163.0 L1153.8,162.0 L1154.8,162.5 L1155.8,160.3 L1156.8,160.0 L1157.8,159.8 L1158.8,159.0 L1159.7,159.3 L1160.7,158.7 L1161.7,158.5 L1162.7,157.6 L1163.7,156.4 L1164.7,157.4 L1165.7,157.3 L1166.6,157.2 L1167.6,156.7 L1168.6,157.6 L1169.6,157.9 L1170.6,156.3 L1171.6,157.3 L1172.6,156.5 L1173.5,156.5 L1174.5,157.1 L1175.5,157.0 L1176.5,156.2 L1177.5,155.2 L1178.5,156.7 L1179.5,155.8 L1180.5,157.1 L1181.4,159.2 L1182.4,159.3 L1183.4,160.0 L1184.4,162.1 L1185.4,162.8 L1186.4,162.3 L1187.4,163.2 L1188.3,163.6 L1189.3,163.7 L1190.3,164.2 L1191.3,165.7 L1192.3,163.6 L1193.3,163.4 L1194.3,163.0 L1195.2,162.7 L1196.2,163.8 L1197.2,164.7 L1198.2,165.4 L1199.2,165.6 L1200.2,166.6 L1201.2,165.6 L1202.1,166.6 L1203.1,168.2 L1204.1,166.5 L1205.1,166.7 L1206.1,166.7 L1207.1,165.6 L1208.1,165.5 L1209.1,163.8 L1210.0,163.4 L1211.0,164.3 L1212.0,162.3 L1213.0,163.7 L1214.0,162.6 L1215.0,165.2 L1216.0,165.8 L1216.9,167.3 L1217.9,167.7 L1218.9,169.3 L1219.9,173.0 L1220.9,174.4 L1221.9,176.6 L1222.9,179.4 L1223.8,180.1 L1224.8,178.9 L1225.8,181.0 L1226.8,180.4 L1227.8,179.8 L1228.8,178.0 L1229.8,176.6 L1230.7,175.5 L1231.7,171.8 L1232.7,168.3 L1233.7,164.4 L1234.7,161.2 L1235.7,160.7 L1236.7,162.4 L1237.7,161.8 L1238.6,163.5 L1239.6,166.7 L1240.6,168.4 L1241.6,170.5 L1242.6,171.8 L1243.6,174.6 L1244.6,177.6 L1245.5,177.1 L1246.5,177.5 L1247.5,176.7 L1248.5,176.1 L1249.5,176.8 L1250.5,177.6 L1251.5,176.8 L1252.4,174.8 L1253.4,172.4 L1254.4,170.4 L1255.4,168.4 L1256.4,167.6 L1257.4,168.2 L1258.4,167.6 L1259.4,169.6 L1260.3,171.7 L1261.3,173.8 L1262.3,176.5 L1263.3,182.5 L1264.3,185.7 L1265.3,186.4 L1266.3,188.3 L1267.2,189.3 L1268.2,189.0 L1269.2,190.2 L1270.2,188.1 L1271.2,187.7 L1272.2,184.9 L1273.2,183.2 L1274.1,183.0 L1275.1,180.7 L1276.1,178.8 L1277.1,175.9 L1278.1,173.7 L1279.1,172.6 L1280.1,169.8 L1281.0,169.4 L1282.0,167.9 L1283.0,166.2 L1284.0,166.1 L1285.0,164.6 L1286.0,164.2 L1287.0,163.2 L1288.0,162.4 L1288.9,161.8 L1289.9,161.7 L1290.9,162.0 L1291.9,161.5 L1292.9,161.0" fill="none" stroke="#ff0000" stroke-width="4.7" stroke-linejoin="round" stroke-linecap="round"/>
<path d="M266.1,686.7 L267.2,621.7 L268.4,557.8 L269.7,493.9 L271.0,437.0 L272.9,361.7 L275.1,297.8 L277.7,233.9 L279.6,200.0 L281.0,180.1" fill="none" stroke="#ff0000" stroke-width="4.4" stroke-linejoin="round" stroke-linecap="round"/>
<g stroke="#000" stroke-width="3.7" fill="none" stroke-linecap="butt">
<path d="M165.45,83.8 V706.8"/>
<path d="M165.45,706.75 H1347.8"/>
<path d="M264.20,706.8 V724.9"/>
<path d="M461.45,706.8 V724.9"/>
<path d="M658.70,706.8 V724.9"/>
<path d="M855.94,706.8 V724.9"/>
<path d="M1053.19,706.8 V724.9"/>
<path d="M1250.44,706.8 V724.9"/>
<path d="M165.58,706.8 V715.5"/>
<path d="M362.82,706.8 V715.5"/>
<path d="M560.07,706.8 V715.5"/>
<path d="M757.32,706.8 V715.5"/>
<path d="M954.57,706.8 V715.5"/>
<path d="M1151.82,706.8 V715.5"/>
</g>
<g stroke="#000" stroke-width="3.5" fill="none" stroke-linecap="butt">
<path d="M146.6,147.70 H165.4"/>
<path d="M146.6,271.93 H165.4"/>
<path d="M146.6,396.15 H165.4"/>
<path d="M146.6,520.38 H165.4"/>
<path d="M146.6,644.60 H165.4"/>
<path d="M155.8,85.59 H165.4"/>
<path d="M155.8,209.81 H165.4"/>
<path d="M155.8,334.04 H165.4"/>
<path d="M155.8,458.26 H165.4"/>
<path d="M155.8,582.49 H165.4"/>
<path d="M155.8,706.71 H165.4"/>
</g>
<text x="253.25" y="772.30" font-size="42.2" stroke="#fff" stroke-width="0.55" >0</text>
<text x="430.43 450.50 470.80" y="772.30" font-size="42.2" stroke="#fff" stroke-width="0.55" >200</text>
<text x="627.36 647.75 668.05" y="772.30" font-size="42.2" stroke="#fff" stroke-width="0.55" >400</text>
<text x="824.42 844.99 865.29" y="772.30" font-size="42.2" stroke="#fff" stroke-width="0.55" >600</text>
<text x="1021.94 1042.24 1062.54" y="772.30" font-size="42.2" stroke="#fff" stroke-width="0.55" >800</text>
<text x="1208.45 1229.34 1249.64 1269.94" y="772.30" font-size="42.2" stroke="#fff" stroke-width="0.55" >1000</text>
<text x="113.65" y="164.00" font-size="42.2" stroke="#fff" stroke-width="0.55" >0</text>
<text x="75.55 92.95 113.65" y="290.83 288.23 288.23" font-size="42.2" stroke="#fff" stroke-width="0.55" >-50</text>
<text x="55.25 72.46 93.35 113.65" y="415.05 412.45 412.45 412.45" font-size="42.2" stroke="#fff" stroke-width="0.55" >-100</text>
<text x="55.25 72.46 92.95 113.65" y="539.27 536.67 536.67 536.67" font-size="42.2" stroke="#fff" stroke-width="0.55" >-150</text>
<text x="55.25 73.29 93.35 113.65" y="663.50 660.90 660.90 660.90" font-size="42.2" stroke="#fff" stroke-width="0.55" >-200</text>
<text x="666.14 694.59 723.91 745.85 768.00 792.20 818.89" y="837.00" font-size="50.0" stroke="#fff" stroke-width="0.55" >Episode</text>
<g transform="translate(35.3,679.6) rotate(-90)"><text x="-0.63 23.32 49.43 76.85 98.65 122.00 148.71 172.24 198.35 222.45 252.21 274.17 296.34 320.56 347.27 370.80 399.51 417.97 439.58 474.91 498.79 519.12 547.19" y="0.00" font-size="50.0" stroke="#fff" stroke-width="0.55" >average_episode_rewards</text></g>
<rect x="844.2" y="0" width="705.4" height="2" fill="#9a9a9a"/>
<rect x="844.2" y="2" width="705.4" height="0.9" fill="#858585"/>
<path d="M844.8,1.6 V63.45 H1549" fill="none" stroke="#404040" stroke-width="1.4"/>
<path d="M1548.55,1.6 V64.1" fill="none" stroke="#333" stroke-width="1.1"/>
<path d="M850.3,32.6 H949.6" stroke="#ff0000" stroke-width="4.4" stroke-linecap="round" fill="none"/>
<text x="974.37 998.34 1024.47 1051.91 1073.73 1097.10 1123.83 1147.38 1173.51 1197.63 1227.41 1249.39 1271.58 1295.82 1322.55 1346.10 1374.83 1393.33 1414.94 1450.27 1474.19 1494.54 1522.63" y="49.80" font-size="50.0" stroke="#fff" stroke-width="0.55" >average_episode_rewards</text>
</svg>
</body></html>
